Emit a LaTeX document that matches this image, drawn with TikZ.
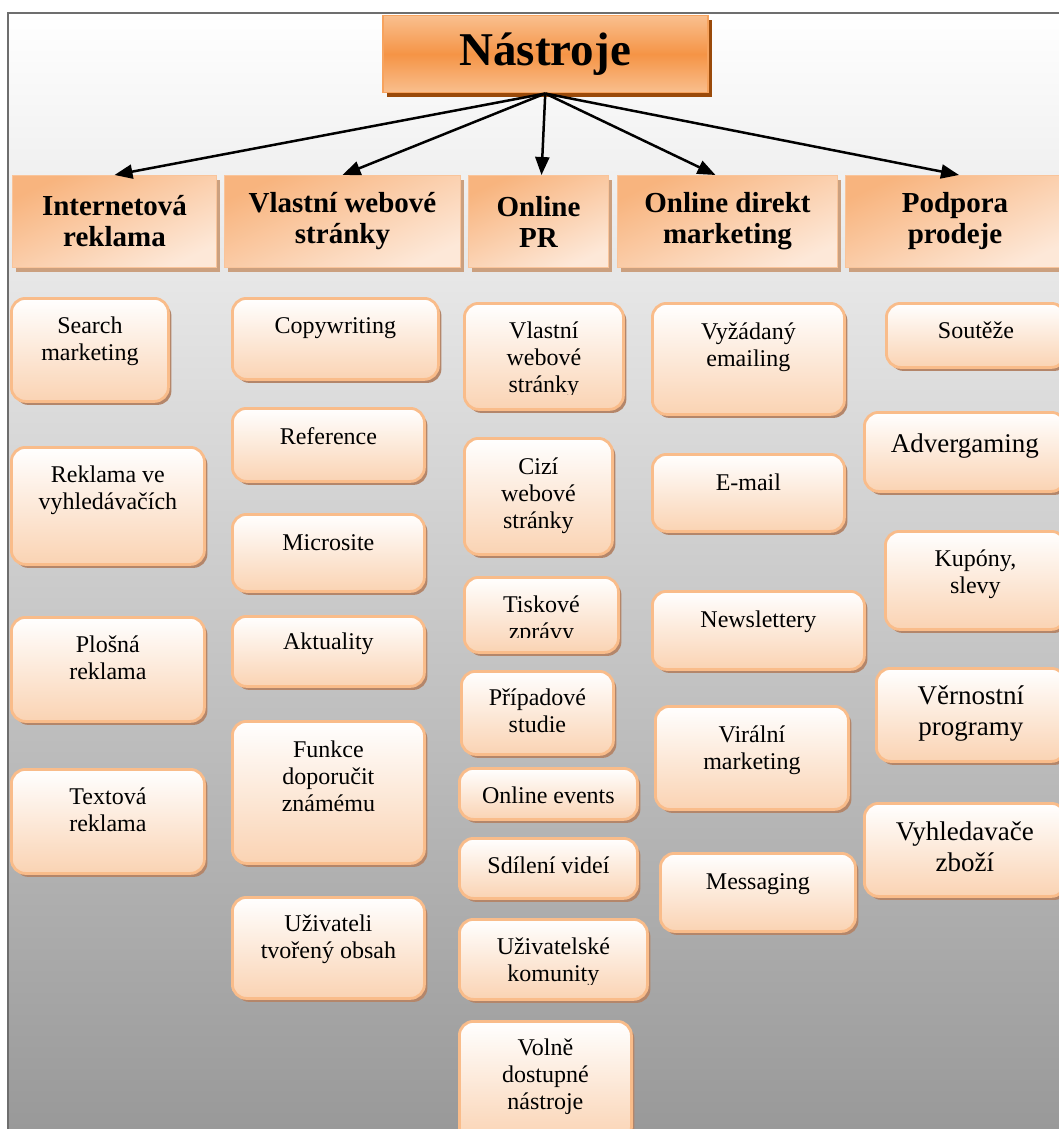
\documentclass[tikz,border=0pt]{standalone}
\usepackage{fontspec}
\setmainfont{Liberation Serif}
\usetikzlibrary{arrows.meta,shadows,calc}
\definecolor{leafborder}{HTML}{F9BC8A}
\definecolor{leafbot}{HTML}{FAD3B3}
\definecolor{leafshadow}{HTML}{B4866A}
\definecolor{catdark}{HTML}{F8B47E}
\definecolor{catlight}{HTML}{FDE8D8}
\definecolor{catborder}{HTML}{F9C49A}
\definecolor{catshadow}{HTML}{CBA07F}
\definecolor{titlemid}{HTML}{F59446}
\definecolor{titleedge}{HTML}{F9BF8E}
\definecolor{titleborder}{HTML}{F7A35E}
\definecolor{titleshadow}{HTML}{9A4A0A}
\definecolor{framecol}{HTML}{6E6E6E}
\definecolor{bgmid}{HTML}{D0D0D0}
\definecolor{bgbot}{HTML}{999999}
\tikzset{
  x=1pt, y=-1pt,
  leaf/.style={draw=leafborder, line width=2.8pt, rounded corners=14pt,
    top color=white, bottom color=leafbot, anchor=north west, inner sep=0pt,
    general shadow={fill=leafshadow, shadow xshift=3pt, shadow yshift=-3.5pt}},
  leaftxt/.style={anchor=base, inner sep=0pt, text=black},
  cat/.style={draw=catborder, line width=1pt, top color=catdark, bottom color=catlight,
    shading angle=25, anchor=north west, inner sep=0pt, align=center,
    font=\fontsize{29}{31}\selectfont\bfseries,
    general shadow={fill=catshadow, shadow xshift=3pt, shadow yshift=-4pt}},
  titlebox/.style={draw=titleborder, line width=1.5pt, shading=axis,
    top color=titleedge, bottom color=titleedge, middle color=titlemid,
    anchor=north west, inner sep=0pt, font=\fontsize{47}{50}\selectfont\bfseries,
    general shadow={fill=titleshadow, shadow xshift=4pt, shadow yshift=-4pt}},
  arr/.style={line width=2.5pt, -{Triangle[length=18pt,width=14pt]}},
}
% size, offset, name, x1, y1, x2, y2, text
\newcommand\leafbox[8]{%
  \node[leaf, minimum width={#6-#4}, minimum height={#7-#5}] (#3) at (#4,#5) {};
  \begin{scope}
    \clip (#4,#5) rectangle (#6,#7-14);
    \node[leaftxt] (#3t) at ($(#3.north)+(0,#2)$)
      {\fontsize{#1}{\fpeval{round(#1*1.13)}}\selectfont\begin{tabular}[t]{@{}c@{}}#8\end{tabular}};
  \end{scope}}
\newcommand\catbox[6]{%
  \node[cat, minimum width={#4-#2}, minimum height={#5-#3}] (#1) at (#2,#3) {#6};}
\begin{document}
\begin{tikzpicture}
\useasboundingbox (0,0) rectangle (1059,1129);
\fill[white] (0,0) rectangle (1059,1129);
\shade[top color=white, middle color=bgmid, bottom color=bgbot] (8,12) rectangle (1059,1129);
\draw[framecol, line width=2.2pt] (8,1129) -- (8,13) -- (1059,13);

\node[titlebox, minimum width=325, minimum height=77] (title) at (382,15) {Nástroje};

\catbox{cA}{12}{175}{216}{267}{Internetová\\reklama}
\catbox{cB}{224}{175}{460}{267}{Vlastní webové\\stránky}
\catbox{cC}{468}{175}{608}{267}{Online\\PR}
\catbox{cD}{617}{175}{837}{267}{Online direkt\\marketing}
\catbox{cE}{845}{175}{1064}{267}{Podpora\\prodeje}

\draw[arr] (title.south) -- (cA.north);
\draw[arr] (title.south) -- (cB.north);
\draw[arr] (title.south) -- ([xshift=3pt]cC.north);
\draw[arr] (title.south) -- ([xshift=-12pt]cD.north);
\draw[arr] (title.south) -- ([xshift=4pt]cE.north);

% column 1
\leafbox{24}{36}{l11}{10}{297}{167}{400}{Search\\marketing}
\leafbox{24}{36}{l12}{10}{446}{203}{563}{Reklama ve\\vyhledávačích}
\leafbox{24}{36}{l13}{10}{616}{203}{720}{Plošná\\reklama}
\leafbox{24}{36}{l14}{10}{768}{203}{872}{Textová\\reklama}
% column 2
\leafbox{24}{36}{l21}{231}{297}{437}{378}{Copywriting}
\leafbox{24}{37}{l22}{231}{407}{423}{480}{Reference}
\leafbox{24}{37}{l23}{231}{513}{423}{590}{Microsite}
\leafbox{24}{34}{l24}{231}{615}{423}{685}{Aktuality}
\leafbox{24}{37}{l25}{231}{720}{423}{862}{Funkce\\doporučit\\známému}
\leafbox{24}{35}{l26}{231}{896}{423}{997}{Uživateli\\tvořený obsah}
% column 3
\leafbox{24}{36}{l31}{463}{302}{622}{408}{Vlastní\\webové\\stránky}
\leafbox{24}{37}{l32}{463}{437}{611}{553}{Cizí\\webové\\stránky}
\leafbox{24}{36}{l33}{463}{576}{617}{651}{Tiskové\\zprávy}
\leafbox{24}{35}{l34}{460}{670}{612}{753}{Případové\\studie}
\leafbox{24}{36}{l35}{458}{767}{636}{818}{Online events}
\leafbox{24}{36}{l36}{458}{837}{636}{897}{Sdílení videí}
\leafbox{24}{36}{l37}{458}{918}{646}{998}{Uživatelské\\komunity}
\leafbox{24}{35}{l38}{458}{1020}{630}{1140}{Volně\\dostupné\\nástroje}
% column 4
\leafbox{24}{37}{l41}{651}{302}{843}{413}{Vyžádaný\\emailing}
\leafbox{24}{37}{l42}{651}{453}{843}{530}{E-mail}
\leafbox{24}{37}{l43}{651}{590}{863}{668}{Newslettery}
\leafbox{24}{37}{l44}{654}{705}{847}{808}{Virální\\marketing}
\leafbox{24}{37}{l45}{659}{852}{854}{930}{Messaging}
% column 5
\leafbox{24}{36}{l51}{885}{302}{1064}{366}{Soutěže}
\leafbox{27}{41}{l52}{863}{411}{1064}{490}{Advergaming}
\leafbox{24}{36}{l53}{884}{530}{1064}{628}{Kupóny,\\slevy}
\leafbox{27}{37}{l54}{875}{667}{1064}{760}{Věrnostní\\programy}
\leafbox{27}{38}{l55}{863}{802}{1064}{895}{Vyhledavače\\zboží}
\end{tikzpicture}
\end{document}
